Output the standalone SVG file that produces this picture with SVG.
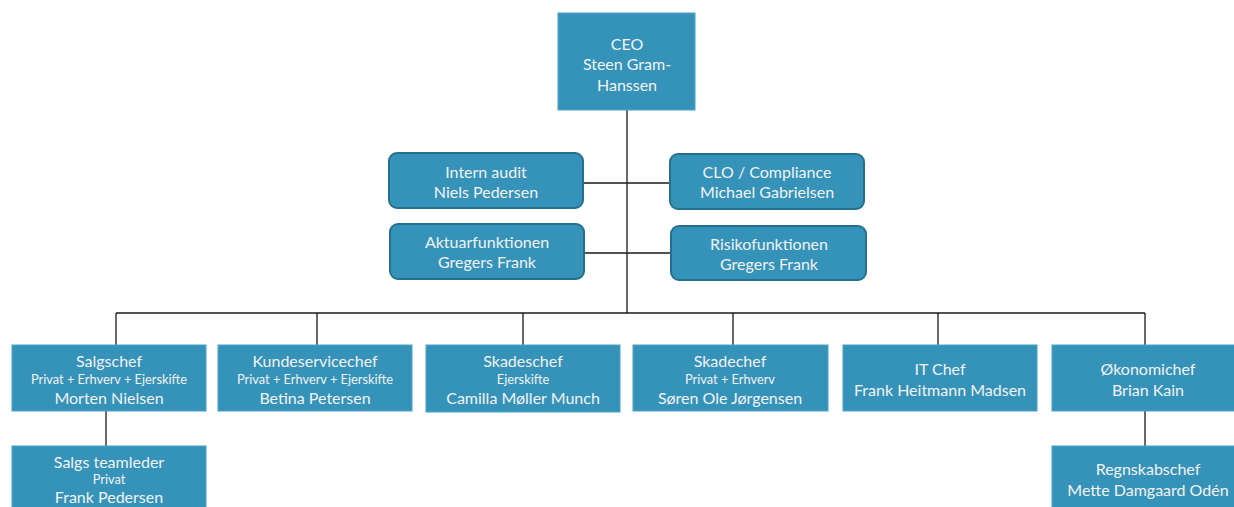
<svg xmlns="http://www.w3.org/2000/svg" width="1234" height="507" viewBox="0 0 1234 507">
<style>
.box{fill:#3593b9;stroke:#4aa3c6;stroke-width:1}
.rbox{fill:#3593b9;stroke:#25708f;stroke-width:2}
text{font-family:Lato,"Open Sans","Liberation Sans",sans-serif;fill:#f2f2f2;text-anchor:middle;dominant-baseline:central}
.m{font-size:16px}
.s{font-size:12.8px}
.ln{stroke:#1a1a1a;stroke-width:1.3;fill:none}
</style>
<rect width="1234" height="507" fill="#ffffff"/>
<g id="connectors">
<path class="ln" d="M627 110V313M583 183H670M584 253H671M116 313H1145M116 313V345M317 313V345M523 313V345M733 313V345M938 313V345M1145 313V345M106 411V446M1145 411V446"/>
</g>
<g id="ceo"><rect class="box" x="558" y="13" width="137" height="97"/>
<text class="m" x="627" y="43">CEO</text><text class="m" x="627" y="63">Steen Gram-</text><text class="m" x="627" y="84">Hanssen</text></g>
<g id="intern-audit"><rect class="rbox" x="389" y="153" width="194" height="55" rx="8"/>
<text class="m" x="486" y="171">Intern audit</text><text class="m" x="486" y="191">Niels Pedersen</text></g>
<g id="clo"><rect class="rbox" x="670" y="154" width="194" height="55" rx="8"/>
<text class="m" x="767" y="171">CLO / Compliance</text><text class="m" x="767" y="191">Michael Gabrielsen</text></g>
<g id="aktuar"><rect class="rbox" x="390" y="224" width="194" height="55" rx="8"/>
<text class="m" x="487" y="241">Aktuarfunktionen</text><text class="m" x="487" y="261">Gregers Frank</text></g>
<g id="risiko"><rect class="rbox" x="671" y="226" width="195" height="54" rx="8"/>
<text class="m" x="769" y="243">Risikofunktionen</text><text class="m" x="769" y="263">Gregers Frank</text></g>
<g id="salgschef"><rect class="box" x="12" y="345" width="194" height="66"/>
<text class="m" x="109" y="360">Salgschef</text><text class="s" x="109" y="379">Privat + Erhverv + Ejerskifte</text><text class="m" x="109" y="397">Morten Nielsen</text></g>
<g id="kundeservicechef"><rect class="box" x="218" y="345" width="194" height="66"/>
<text class="m" x="315" y="360">Kundeservicechef</text><text class="s" x="315" y="379">Privat + Erhverv + Ejerskifte</text><text class="m" x="315" y="397">Betina Petersen</text></g>
<g id="skadeschef"><rect class="box" x="426" y="345" width="194" height="67"/>
<text class="m" x="523" y="360">Skadeschef</text><text class="s" x="523" y="379">Ejerskifte</text><text class="m" x="523" y="397">Camilla Møller Munch</text></g>
<g id="skadechef"><rect class="box" x="633" y="345" width="195" height="66"/>
<text class="m" x="730" y="360">Skadechef</text><text class="s" x="730" y="379">Privat + Erhverv</text><text class="m" x="730" y="397">Søren Ole Jørgensen</text></g>
<g id="it-chef"><rect class="box" x="843" y="345" width="194" height="66"/>
<text class="m" x="940" y="368">IT Chef</text><text class="m" x="940" y="389">Frank Heitmann Madsen</text></g>
<g id="okonomichef"><rect class="box" x="1052" y="345" width="190" height="66"/>
<text class="m" x="1148" y="368">Økonomichef</text><text class="m" x="1148" y="389">Brian Kain</text></g>
<g id="salgs-teamleder"><rect class="box" x="12" y="446" width="194" height="66"/>
<text class="m" x="109" y="461">Salgs teamleder</text><text class="s" x="109" y="479">Privat</text><text class="m" x="109" y="496">Frank Pedersen</text></g>
<g id="regnskabschef"><rect class="box" x="1052" y="446" width="190" height="66"/>
<text class="m" x="1148" y="468">Regnskabschef</text><text class="m" x="1148" y="489">Mette Damgaard Odén</text></g>
</svg>
